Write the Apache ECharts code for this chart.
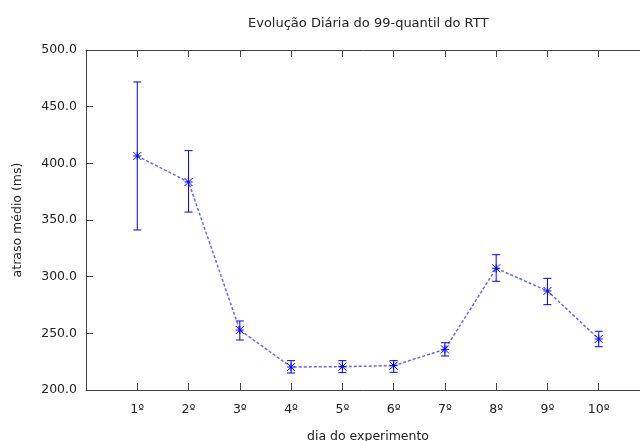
<!DOCTYPE html>
<html>
<head>
<meta charset="utf-8">
<script src="https://cdn.jsdelivr.net/npm/echarts@6/dist/echarts.min.js"></script>
<style>
html,body{margin:0;padding:0;background:#fff;}
#chart{width:640px;height:441px;}
</style>
</head>
<body>
<div id="chart"></div>
<script>
var categories = ['1º','2º','3º','4º','5º','6º','7º','8º','9º','10º'];
var means = [406.5, 383.5, 252.9, 220.3, 220.6, 221.5, 235.9, 307.4, 287.4, 245.0];
var lows  = [341.2, 357.0, 244.1, 215.0, 215.3, 215.6, 230.0, 295.9, 275.3, 238.2];
var highs = [471.8, 411.2, 260.9, 225.9, 225.9, 225.9, 241.7, 319.4, 298.5, 251.8];
var yTicks = [200, 250, 300, 350, 400, 450, 500];

var FONT = 'DejaVu Sans';
var chart = echarts.init(document.getElementById('chart'), null, {renderer:'canvas'});

var lineData = means.map(function(m, i){ return [i + 1, m]; });
var errData = means.map(function(m, i){ return [i + 1, m, lows[i], highs[i]]; });

var blue = '#0000ff';

function renderErr(params, api) {
  var x = api.value(0);
  var pm = api.coord([x, api.value(1)]);
  var pl = api.coord([x, api.value(2)]);
  var ph = api.coord([x, api.value(3)]);
  var cw = 4, s = 4;
  var st = {stroke: blue, lineWidth: 1};
  var ln = function(x1,y1,x2,y2){ return {type:'line', shape:{x1:x1,y1:y1,x2:x2,y2:y2}, style:st}; };
  return {type:'group', children:[
    ln(pl[0], pl[1], ph[0], ph[1]),
    ln(pl[0]-cw, pl[1], pl[0]+cw, pl[1]),
    ln(ph[0]-cw, ph[1], ph[0]+cw, ph[1]),
    ln(pm[0]-s, pm[1], pm[0]+s, pm[1]),
    ln(pm[0], pm[1]-s, pm[0], pm[1]+s),
    ln(pm[0]-s, pm[1]-s, pm[0]+s, pm[1]+s),
    ln(pm[0]-s, pm[1]+s, pm[0]+s, pm[1]-s)
  ]};
}

var axisLineStyle = {color:'#444', width:1};
var option = {
  animation: false,
  backgroundColor: '#fff',
  title: {
    text: 'Evolução Diária do 99-quantil do RTT',
    left: 243, top: 12,
    textStyle: {fontFamily: FONT, fontSize: 13, fontWeight: 'normal', color: '#222'}
  },
  grid: {left: 86, top: 50, width: 564, height: 340, show: false,
         containLabel: false, outerBoundsMode: 'none'},
  xAxis: [{
    type: 'value', min: 0, max: 11, interval: 1, position: 'bottom',
    name: 'dia do experimento', nameLocation: 'middle', nameGap: 40,
    nameTextStyle: {fontFamily: FONT, fontSize: 12.5, color: '#222'},
    axisLine: {show: true, lineStyle: axisLineStyle},
    axisTick: {show: true, inside: true, length: 7, lineStyle: axisLineStyle},
    axisLabel: {
      fontFamily: FONT, fontSize: 12.5, color: '#222', margin: 13,
      showMinLabel: false, showMaxLabel: false,
      formatter: function(v){ return (v >= 1 && v <= categories.length) ? categories[v - 1] : ''; }
    },
    splitLine: {show: false}
  }, {
    type: 'value', min: 0, max: 11, interval: 1, position: 'top',
    axisLine: {show: true, onZero: false, lineStyle: axisLineStyle},
    axisTick: {show: true, inside: true, length: 7, lineStyle: axisLineStyle},
    axisLabel: {show: false},
    splitLine: {show: false}
  }],
  yAxis: [{
    type: 'value', min: yTicks[0], max: yTicks[yTicks.length - 1], interval: 50,
    name: 'atraso médio (ms)', nameLocation: 'middle', nameGap: 62, nameRotate: 90,
    nameTextStyle: {fontFamily: FONT, fontSize: 12.5, color: '#222'},
    axisLine: {show: true, onZero: false, lineStyle: axisLineStyle},
    axisTick: {show: true, inside: true, length: 7, lineStyle: axisLineStyle},
    axisLabel: {fontFamily: FONT, fontSize: 12.5, color: '#222', margin: 9,
      formatter: function(v){ return v.toFixed(1); }},
    splitLine: {show: false}
  }, {
    type: 'value', min: yTicks[0], max: yTicks[yTicks.length - 1], interval: 50, position: 'right',
    axisLine: {show: true, onZero: false, lineStyle: axisLineStyle},
    axisTick: {show: true, inside: true, length: 7, lineStyle: axisLineStyle},
    axisLabel: {show: false},
    splitLine: {show: false}
  }],
  series: [{
    type: 'line', data: lineData, symbol: 'none',
    lineStyle: {color: blue, width: 1.5, type: [3, 2], opacity: 0.6}
  }, {
    type: 'custom', data: errData, renderItem: renderErr, z: 3
  }]
};
chart.setOption(option);
</script>
</body>
</html>
